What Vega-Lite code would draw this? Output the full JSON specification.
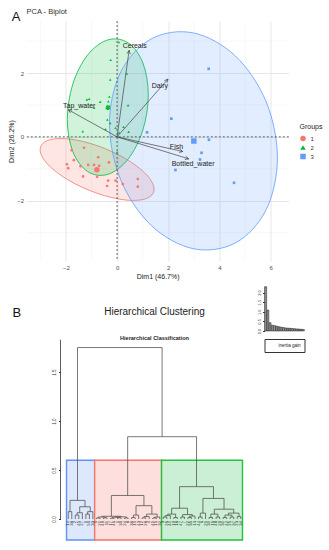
{
  "$schema": "https://vega.github.io/schema/vega-lite/v6.json",
  "background": "white",
  "padding": {"left": 7.5, "top": 8, "right": 0, "bottom": 0},
  "config": {
    "font": "Liberation Sans",
    "view": {"stroke": null},
    "legend": {"layout": {"right": {"anchor": "middle"}}}
  },
  "title": {"text": "A", "anchor": "start", "frame": "bounds", "fontSize": 13, "fontWeight": "normal", "color": "#111", "offset": -15.5, "dx": 4},
  "resolve": {"scale": {"color": "independent", "fill": "independent", "stroke": "independent", "shape": "independent", "size": "independent"}},
  "datasets": {
    "one": [{}],
    "minorx": [{"v": -3}, {"v": -1}, {"v": 1}, {"v": 3}, {"v": 5}],
    "minory": [{"v": -3}, {"v": -1}, {"v": 1}, {"v": 3}],
    "axisline": [{"from": 0, "to": 1.83, "at": -1.205}],
    "pts": [
      {"x": -1.78, "y": -0.42, "group": "1", "kind": "ind"},
      {"x": -1.29, "y": -0.34, "group": "1", "kind": "ind"},
      {"x": -0.74, "y": -0.64, "group": "1", "kind": "ind"},
      {"x": -1.69, "y": -0.73, "group": "1", "kind": "ind"},
      {"x": -1.96, "y": -0.86, "group": "1", "kind": "ind"},
      {"x": -1.91, "y": -0.98, "group": "1", "kind": "ind"},
      {"x": -1.43, "y": -0.92, "group": "1", "kind": "ind"},
      {"x": -1.13, "y": -0.88, "group": "1", "kind": "ind"},
      {"x": -0.90, "y": -0.88, "group": "1", "kind": "ind"},
      {"x": -0.70, "y": -0.91, "group": "1", "kind": "ind"},
      {"x": -0.32, "y": -0.80, "group": "1", "kind": "ind"},
      {"x": -1.33, "y": -1.24, "group": "1", "kind": "ind"},
      {"x": -0.78, "y": -1.25, "group": "1", "kind": "ind"},
      {"x": -0.35, "y": -1.37, "group": "1", "kind": "ind"},
      {"x": -0.06, "y": -1.37, "group": "1", "kind": "ind"},
      {"x": -0.39, "y": -1.54, "group": "1", "kind": "ind"},
      {"x": 0.22, "y": -1.48, "group": "1", "kind": "ind"},
      {"x": 0.81, "y": -1.32, "group": "1", "kind": "ind"},
      {"x": 0.81, "y": -1.56, "group": "1", "kind": "ind"},
      {"x": -0.79, "y": -1.03, "group": "1", "kind": "mean"},
      {"x": 0.07, "y": 2.97, "group": "2", "kind": "ind"},
      {"x": -0.25, "y": 2.41, "group": "2", "kind": "ind"},
      {"x": 0.38, "y": 1.98, "group": "2", "kind": "ind"},
      {"x": -0.27, "y": 1.79, "group": "2", "kind": "ind"},
      {"x": -1.09, "y": 1.19, "group": "2", "kind": "ind"},
      {"x": -1.18, "y": 1.17, "group": "2", "kind": "ind"},
      {"x": -0.66, "y": 1.10, "group": "2", "kind": "ind"},
      {"x": -0.30, "y": 1.26, "group": "2", "kind": "ind"},
      {"x": -0.34, "y": 1.11, "group": "2", "kind": "ind"},
      {"x": -0.40, "y": 0.96, "group": "2", "kind": "ind"},
      {"x": -0.30, "y": 0.96, "group": "2", "kind": "ind"},
      {"x": -0.36, "y": 0.88, "group": "2", "kind": "ind"},
      {"x": -0.90, "y": 0.91, "group": "2", "kind": "ind"},
      {"x": 0.43, "y": 0.99, "group": "2", "kind": "ind"},
      {"x": -0.38, "y": 0.54, "group": "2", "kind": "ind"},
      {"x": -0.27, "y": 0.43, "group": "2", "kind": "ind"},
      {"x": -0.06, "y": 0.28, "group": "2", "kind": "ind"},
      {"x": 0.25, "y": 0.31, "group": "2", "kind": "ind"},
      {"x": -1.34, "y": 0.17, "group": "2", "kind": "ind"},
      {"x": -0.45, "y": 0.24, "group": "2", "kind": "ind"},
      {"x": 0.08, "y": 0.13, "group": "2", "kind": "ind"},
      {"x": 0.45, "y": 0.16, "group": "2", "kind": "ind"},
      {"x": 0.0, "y": -0.48, "group": "2", "kind": "ind"},
      {"x": -0.36, "y": 0.94, "group": "2", "kind": "mean"},
      {"x": 2.12, "y": 0.57, "group": "3", "kind": "ind"},
      {"x": 1.17, "y": 0.14, "group": "3", "kind": "ind"},
      {"x": 3.59, "y": -0.09, "group": "3", "kind": "ind"},
      {"x": 3.30, "y": -0.50, "group": "3", "kind": "ind"},
      {"x": 3.24, "y": -0.71, "group": "3", "kind": "ind"},
      {"x": 2.28, "y": -1.04, "group": "3", "kind": "ind"},
      {"x": 3.58, "y": 2.13, "group": "3", "kind": "ind"},
      {"x": 4.57, "y": -1.44, "group": "3", "kind": "ind"},
      {"x": 3.0, "y": -0.13, "group": "3", "kind": "mean"}
    ],
    "ell": [
      {"group": "1", "i": 0, "x": 1.446, "y": -1.641},
      {"group": "1", "i": 1, "x": 1.148, "y": -1.932},
      {"group": "1", "i": 2, "x": 0.333, "y": -1.979},
      {"group": "1", "i": 3, "x": -0.781, "y": -1.769},
      {"group": "1", "i": 4, "x": -1.895, "y": -1.359},
      {"group": "1", "i": 5, "x": -2.710, "y": -0.860},
      {"group": "1", "i": 6, "x": -3.008, "y": -0.403},
      {"group": "1", "i": 7, "x": -2.710, "y": -0.112},
      {"group": "1", "i": 8, "x": -1.895, "y": -0.065},
      {"group": "1", "i": 9, "x": -0.781, "y": -0.275},
      {"group": "1", "i": 10, "x": 0.333, "y": -0.685},
      {"group": "1", "i": 11, "x": 1.148, "y": -1.184},
      {"group": "2", "i": 0, "x": 1.219, "y": 1.317},
      {"group": "2", "i": 1, "x": 1.007, "y": 0.212},
      {"group": "2", "i": 2, "x": 0.428, "y": -0.700},
      {"group": "2", "i": 3, "x": -0.363, "y": -1.175},
      {"group": "2", "i": 4, "x": -1.154, "y": -1.086},
      {"group": "2", "i": 5, "x": -1.733, "y": -0.456},
      {"group": "2", "i": 6, "x": -1.945, "y": 0.545},
      {"group": "2", "i": 7, "x": -1.733, "y": 1.650},
      {"group": "2", "i": 8, "x": -1.154, "y": 2.562},
      {"group": "2", "i": 9, "x": -0.363, "y": 3.037},
      {"group": "2", "i": 10, "x": 0.428, "y": 2.948},
      {"group": "2", "i": 11, "x": 1.007, "y": 2.318},
      {"group": "3", "i": 0, "x": 6.265, "y": -0.664},
      {"group": "3", "i": 1, "x": 5.825, "y": -2.283},
      {"group": "3", "i": 2, "x": 4.625, "y": -3.323},
      {"group": "3", "i": 3, "x": 2.984, "y": -3.506},
      {"group": "3", "i": 4, "x": 1.343, "y": -2.783},
      {"group": "3", "i": 5, "x": 0.143, "y": -1.349},
      {"group": "3", "i": 6, "x": -0.297, "y": 0.414},
      {"group": "3", "i": 7, "x": 0.143, "y": 2.033},
      {"group": "3", "i": 8, "x": 1.343, "y": 3.073},
      {"group": "3", "i": 9, "x": 2.984, "y": 3.256},
      {"group": "3", "i": 10, "x": 4.625, "y": 2.533},
      {"group": "3", "i": 11, "x": 5.825, "y": 1.099}
    ],
    "vars": [
      {"name": "Cereals", "x": 0.47, "y": 2.71, "lx": 0.69, "ly": 2.86},
      {"name": "Dairy", "x": 1.99, "y": 1.81, "lx": 1.67, "ly": 1.60},
      {"name": "Tap_water", "x": -1.91, "y": 0.85, "lx": -1.48, "ly": 0.97},
      {"name": "Fish", "x": 2.57, "y": -0.46, "lx": 2.32, "ly": -0.31},
      {"name": "Bottled_water", "x": 2.80, "y": -0.69, "lx": 2.97, "ly": -0.84}
    ],
    "rects": [
      {"cluster": "3", "x1": 0.5, "x2": 8.5, "y1": -0.215, "y2": 0.6},
      {"cluster": "1", "x1": 8.5, "x2": 27.5, "y1": -0.215, "y2": 0.6},
      {"cluster": "2", "x1": 27.5, "x2": 50.5, "y1": -0.215, "y2": 0.6}
    ],
    "merges": [
      {"xa": 1, "ha": 0, "xb": 2, "hb": 0, "h": 0.075},
      {"xa": 3, "ha": 0, "xb": 4, "hb": 0, "h": 0.04},
      {"xa": 3.5, "ha": 0.04, "xb": 5, "hb": 0, "h": 0.064},
      {"xa": 6, "ha": 0, "xb": 7, "hb": 0, "h": 0.05},
      {"xa": 6.5, "ha": 0.05, "xb": 8, "hb": 0, "h": 0.075},
      {"xa": 4.25, "ha": 0.064, "xb": 7.25, "hb": 0.075, "h": 0.125},
      {"xa": 1.5, "ha": 0.075, "xb": 5.75, "hb": 0.125, "h": 0.19},
      {"xa": 9, "ha": 0, "xb": 10, "hb": 0, "h": 0.01},
      {"xa": 11, "ha": 0, "xb": 12, "hb": 0, "h": 0.012},
      {"xa": 9.5, "ha": 0.01, "xb": 11.5, "hb": 0.012, "h": 0.02},
      {"xa": 13, "ha": 0, "xb": 14, "hb": 0, "h": 0.008},
      {"xa": 15, "ha": 0, "xb": 16, "hb": 0, "h": 0.012},
      {"xa": 13.5, "ha": 0.008, "xb": 15.5, "hb": 0.012, "h": 0.018},
      {"xa": 17, "ha": 0, "xb": 18, "hb": 0, "h": 0.01},
      {"xa": 14.5, "ha": 0.018, "xb": 17.5, "hb": 0.01, "h": 0.022},
      {"xa": 10.5, "ha": 0.02, "xb": 16, "hb": 0.022, "h": 0.028},
      {"xa": 19, "ha": 0, "xb": 20, "hb": 0, "h": 0.015},
      {"xa": 19.5, "ha": 0.015, "xb": 21, "hb": 0, "h": 0.04},
      {"xa": 22, "ha": 0, "xb": 23, "hb": 0, "h": 0.012},
      {"xa": 22.5, "ha": 0.012, "xb": 24, "hb": 0, "h": 0.025},
      {"xa": 25, "ha": 0, "xb": 26, "hb": 0, "h": 0.01},
      {"xa": 25.5, "ha": 0.01, "xb": 27, "hb": 0, "h": 0.02},
      {"xa": 23.25, "ha": 0.025, "xb": 26.25, "hb": 0.02, "h": 0.05},
      {"xa": 20.25, "ha": 0.04, "xb": 24.75, "hb": 0.05, "h": 0.136},
      {"xa": 13.25, "ha": 0.028, "xb": 22.5, "hb": 0.136, "h": 0.24},
      {"xa": 28, "ha": 0, "xb": 29, "hb": 0, "h": 0.02},
      {"xa": 28.5, "ha": 0.02, "xb": 30, "hb": 0, "h": 0.035},
      {"xa": 31, "ha": 0, "xb": 32, "hb": 0, "h": 0.015},
      {"xa": 29.25, "ha": 0.035, "xb": 31.5, "hb": 0.015, "h": 0.05},
      {"xa": 33, "ha": 0, "xb": 34, "hb": 0, "h": 0.02},
      {"xa": 35, "ha": 0, "xb": 36, "hb": 0, "h": 0.015},
      {"xa": 35.5, "ha": 0.015, "xb": 37, "hb": 0, "h": 0.03},
      {"xa": 33.5, "ha": 0.02, "xb": 36.25, "hb": 0.03, "h": 0.045},
      {"xa": 30.375, "ha": 0.05, "xb": 34.875, "hb": 0.045, "h": 0.11},
      {"xa": 38, "ha": 0, "xb": 39, "hb": 0, "h": 0.02},
      {"xa": 38.5, "ha": 0.02, "xb": 40, "hb": 0, "h": 0.06},
      {"xa": 41, "ha": 0, "xb": 42, "hb": 0, "h": 0.015},
      {"xa": 43, "ha": 0, "xb": 44, "hb": 0, "h": 0.02},
      {"xa": 41.5, "ha": 0.015, "xb": 43.5, "hb": 0.02, "h": 0.05},
      {"xa": 45, "ha": 0, "xb": 46, "hb": 0, "h": 0.015},
      {"xa": 47, "ha": 0, "xb": 48, "hb": 0, "h": 0.02},
      {"xa": 45.5, "ha": 0.015, "xb": 47.5, "hb": 0.02, "h": 0.04},
      {"xa": 49, "ha": 0, "xb": 50, "hb": 0, "h": 0.025},
      {"xa": 46.5, "ha": 0.04, "xb": 49.5, "hb": 0.025, "h": 0.06},
      {"xa": 42.5, "ha": 0.05, "xb": 48, "hb": 0.06, "h": 0.10},
      {"xa": 39.25, "ha": 0.06, "xb": 45.25, "hb": 0.10, "h": 0.21},
      {"xa": 32.625, "ha": 0.11, "xb": 42.25, "hb": 0.21, "h": 0.33},
      {"xa": 17.875, "ha": 0.24, "xb": 37.4375, "hb": 0.33, "h": 0.84},
      {"xa": 3.625, "ha": 0.19, "xb": 27.656, "hb": 0.84, "h": 1.75}
    ],
    "leaves": [
      {"leaf": 1, "label": "14"}, {"leaf": 2, "label": "38"}, {"leaf": 3, "label": "2"}, {"leaf": 4, "label": "45"},
      {"leaf": 5, "label": "27"}, {"leaf": 6, "label": "9"}, {"leaf": 7, "label": "50"}, {"leaf": 8, "label": "33"},
      {"leaf": 9, "label": "5"}, {"leaf": 10, "label": "21"}, {"leaf": 11, "label": "40"}, {"leaf": 12, "label": "11"},
      {"leaf": 13, "label": "17"}, {"leaf": 14, "label": "46"}, {"leaf": 15, "label": "1"}, {"leaf": 16, "label": "30"},
      {"leaf": 17, "label": "24"}, {"leaf": 18, "label": "8"}, {"leaf": 19, "label": "36"}, {"leaf": 20, "label": "19"},
      {"leaf": 21, "label": "43"}, {"leaf": 22, "label": "12"}, {"leaf": 23, "label": "28"}, {"leaf": 24, "label": "4"},
      {"leaf": 25, "label": "49"}, {"leaf": 26, "label": "15"}, {"leaf": 27, "label": "32"}, {"leaf": 28, "label": "3"},
      {"leaf": 29, "label": "26"}, {"leaf": 30, "label": "41"}, {"leaf": 31, "label": "10"}, {"leaf": 32, "label": "18"},
      {"leaf": 33, "label": "47"}, {"leaf": 34, "label": "7"}, {"leaf": 35, "label": "22"}, {"leaf": 36, "label": "35"},
      {"leaf": 37, "label": "13"}, {"leaf": 38, "label": "44"}, {"leaf": 39, "label": "6"}, {"leaf": 40, "label": "29"},
      {"leaf": 41, "label": "39"}, {"leaf": 42, "label": "16"}, {"leaf": 43, "label": "48"}, {"leaf": 44, "label": "20"},
      {"leaf": 45, "label": "31"}, {"leaf": 46, "label": "42"}, {"leaf": 47, "label": "25"}, {"leaf": 48, "label": "37"},
      {"leaf": 49, "label": "23"}, {"leaf": 50, "label": "34"}
    ],
    "gain": [
      {"k": 1, "gain": 2.3, "series": "inertia gain"}, {"k": 2, "gain": 1.09, "series": "inertia gain"},
      {"k": 3, "gain": 0.43, "series": "inertia gain"}, {"k": 4, "gain": 0.3, "series": "inertia gain"},
      {"k": 5, "gain": 0.28, "series": "inertia gain"}, {"k": 6, "gain": 0.25, "series": "inertia gain"},
      {"k": 7, "gain": 0.22, "series": "inertia gain"}, {"k": 8, "gain": 0.2, "series": "inertia gain"},
      {"k": 9, "gain": 0.18, "series": "inertia gain"}, {"k": 10, "gain": 0.16, "series": "inertia gain"},
      {"k": 11, "gain": 0.15, "series": "inertia gain"}, {"k": 12, "gain": 0.14, "series": "inertia gain"},
      {"k": 13, "gain": 0.13, "series": "inertia gain"}, {"k": 14, "gain": 0.12, "series": "inertia gain"},
      {"k": 15, "gain": 0.11, "series": "inertia gain"}, {"k": 16, "gain": 0.1, "series": "inertia gain"},
      {"k": 17, "gain": 0.09, "series": "inertia gain"}, {"k": 18, "gain": 0.08, "series": "inertia gain"}
    ]
  },
  "spacing": 7,
  "center": false,
  "vconcat": [
    {
      "width": 262.3,
      "height": 240,
      "title": {"text": "PCA - Biplot", "anchor": "start", "frame": "group", "fontSize": 7.5, "fontWeight": "normal", "color": "#333", "offset": 5},
      "layer": [
        {
          "data": {"name": "minorx"},
          "mark": {"type": "rule", "color": "#f0f0f0", "strokeWidth": 0.5},
          "encoding": {"x": {"field": "v", "type": "quantitative", "scale": {"domain": [-3.54, 6.71], "nice": false, "zero": false},
              "axis": {"title": "Dim1 (46.7%)", "values": [-2, 0, 2, 4, 6], "domain": false, "ticks": false,
                "labelFontSize": 6, "labelColor": "#4d4d4d", "labelPadding": 3, "gridColor": "#e4e4e4", "gridWidth": 0.9,
                "titleFontSize": 7, "titleFontWeight": "normal", "titleColor": "#222", "titlePadding": 2}}}
        },
        {
          "data": {"name": "minory"},
          "mark": {"type": "rule", "color": "#f0f0f0", "strokeWidth": 0.5},
          "encoding": {"y": {"field": "v", "type": "quantitative", "scale": {"domain": [-3.89, 3.63], "nice": false, "zero": false},
              "axis": {"title": "Dim2 (26.2%)", "values": [-2, 0, 2], "domain": false, "ticks": false,
                "labelFontSize": 6, "labelColor": "#4d4d4d", "labelPadding": 3, "gridColor": "#e4e4e4", "gridWidth": 0.9,
                "titleFontSize": 7, "titleFontWeight": "normal", "titleColor": "#222", "titlePadding": 2}}}
        },
        {
          "data": {"name": "ell"},
          "transform": [{"filter": "datum.group === '1'"}],
          "mark": {"type": "line", "interpolate": "cardinal-closed", "strokeWidth": 0.8, "fillOpacity": 0.18},
          "encoding": {
            "x": {"field": "x", "type": "quantitative"},
            "y": {"field": "y", "type": "quantitative"},
            "order": {"field": "i", "type": "quantitative"},
            "stroke": {"value": "#F8766D"},
            "fill": {"value": "#F8766D"}
          }
        },
        {
          "data": {"name": "ell"},
          "transform": [{"filter": "datum.group === '2'"}],
          "mark": {"type": "line", "interpolate": "cardinal-closed", "strokeWidth": 0.8, "fillOpacity": 0.18},
          "encoding": {
            "x": {"field": "x", "type": "quantitative"},
            "y": {"field": "y", "type": "quantitative"},
            "order": {"field": "i", "type": "quantitative"},
            "stroke": {"value": "#00BA38"},
            "fill": {"value": "#00BA38"}
          }
        },
        {
          "data": {"name": "ell"},
          "transform": [{"filter": "datum.group === '3'"}],
          "mark": {"type": "line", "interpolate": "cardinal-closed", "strokeWidth": 0.8, "fillOpacity": 0.18},
          "encoding": {
            "x": {"field": "x", "type": "quantitative"},
            "y": {"field": "y", "type": "quantitative"},
            "order": {"field": "i", "type": "quantitative"},
            "stroke": {"value": "#619CFF"},
            "fill": {"value": "#619CFF"}
          }
        },
        {
          "data": {"name": "one"},
          "mark": {"type": "rule", "color": "#555", "strokeDash": [2, 2], "strokeWidth": 0.9},
          "encoding": {"x": {"datum": 0, "type": "quantitative"}}
        },
        {
          "data": {"name": "one"},
          "mark": {"type": "rule", "color": "#555", "strokeDash": [2, 2], "strokeWidth": 0.9},
          "encoding": {"y": {"datum": 0, "type": "quantitative"}}
        },
        {
          "data": {"name": "pts"},
          "mark": {"type": "point", "filled": true, "opacity": 1},
          "encoding": {
            "x": {"field": "x", "type": "quantitative"},
            "y": {"field": "y", "type": "quantitative"},
            "color": {"field": "group", "type": "nominal", "scale": {"domain": ["1", "2", "3"], "range": ["#F8766D", "#00BA38", "#619CFF"]},
              "legend": {"title": "Groups", "titleFontSize": 7, "titleFontWeight": "normal", "titleColor": "#222", "labelFontSize": 6, "labelColor": "#333", "symbolSize": 30, "offset": 10, "rowPadding": 2}},
            "shape": {"field": "group", "type": "nominal", "scale": {"domain": ["1", "2", "3"], "range": ["circle", "triangle-up", "square"]}},
            "size": {"field": "kind", "type": "nominal", "scale": {"domain": ["ind", "mean"], "range": [7, 30]}, "legend": null}
          }
        },
        {
          "data": {"name": "vars"},
          "mark": {"type": "rule", "color": "#444", "strokeWidth": 0.7},
          "encoding": {
            "x": {"field": "x", "type": "quantitative"},
            "y": {"field": "y", "type": "quantitative"},
            "x2": {"datum": 0},
            "y2": {"datum": 0}
          }
        },
        {
          "data": {"name": "vars"},
          "transform": [{"calculate": "atan2(datum.x * 25.6, datum.y * 32) * 180 / PI", "as": "ang"}],
          "mark": {"type": "point", "shape": "M-0.6,1.3L0,0L0.6,1.3", "filled": false, "stroke": "#444", "strokeWidth": 0.7, "size": 30, "opacity": 1},
          "encoding": {
            "x": {"field": "x", "type": "quantitative"},
            "y": {"field": "y", "type": "quantitative"},
            "angle": {"field": "ang", "type": "quantitative", "scale": null}
          }
        },
        {
          "data": {"name": "vars"},
          "mark": {"type": "text", "fontSize": 7, "color": "#222"},
          "encoding": {
            "x": {"field": "lx", "type": "quantitative"},
            "y": {"field": "ly", "type": "quantitative"},
            "text": {"field": "name"}
          }
        }
      ]
    },
    {
      "title": {"text": "B", "anchor": "start", "frame": "bounds", "fontSize": 13, "fontWeight": "normal", "color": "#111", "offset": -34, "dx": -14},
      "spacing": 9,
      "center": false,
      "resolve": {"scale": {"fill": "independent", "stroke": "independent"}},
      "hconcat": [
        {
          "width": 222,
          "height": 255,
          "title": {"text": "Hierarchical Clustering", "subtitle": "Hierarchical Classification", "anchor": "middle", "frame": "group",
            "fontSize": 10, "fontWeight": "normal", "color": "#222", "subtitleFontSize": 5.5, "subtitleFontWeight": "bold", "subtitleColor": "#222",
            "subtitlePadding": 19, "offset": -55, "dx": 17},
          "layer": [
            {
              "data": {"name": "rects"},
              "mark": {"type": "rect", "strokeWidth": 1.4},
              "encoding": {
                "x": {"field": "x1", "type": "quantitative", "scale": {"domain": [-10.864, 52.2], "nice": false, "zero": false}, "axis": null},
                "x2": {"field": "x2"},
                "y": {"field": "y1", "type": "quantitative", "scale": {"domain": [-0.2245, 2.378], "nice": false, "zero": false},
                  "axis": {"title": null, "orient": "left", "offset": -34, "values": [0, 0.5, 1, 1.5], "format": ".1f", "domain": false, "grid": false,
                    "tickSize": 2, "tickColor": "#333", "labelAngle": -90, "labelAlign": "center", "labelBaseline": "bottom", "labelFontSize": 4.5, "labelColor": "#333", "labelPadding": 2}},
                "y2": {"field": "y2"},
                "fill": {"field": "cluster", "type": "nominal", "scale": {"domain": ["1", "2", "3"], "range": ["#fde0de", "#caefd4", "#dde8fc"]}, "legend": null},
                "stroke": {"field": "cluster", "type": "nominal", "scale": {"domain": ["1", "2", "3"], "range": ["#f4736a", "#22c13e", "#5d93f4"]}, "legend": null}
              }
            },
            {
              "data": {"name": "axisline"},
              "mark": {"type": "rule", "color": "#333", "strokeWidth": 0.8},
              "encoding": {
                "x": {"field": "at", "type": "quantitative"},
                "y": {"field": "from", "type": "quantitative"},
                "y2": {"field": "to"}
              }
            },
            {
              "data": {"name": "merges"},
              "mark": {"type": "rule", "color": "#555", "strokeWidth": 0.8},
              "encoding": {
                "x": {"field": "xa", "type": "quantitative"},
                "x2": {"field": "xb"},
                "y": {"field": "h", "type": "quantitative"}
              }
            },
            {
              "data": {"name": "merges"},
              "mark": {"type": "rule", "color": "#555", "strokeWidth": 0.8},
              "encoding": {
                "x": {"field": "xa", "type": "quantitative"},
                "y": {"field": "ha", "type": "quantitative"},
                "y2": {"field": "h"}
              }
            },
            {
              "data": {"name": "merges"},
              "mark": {"type": "rule", "color": "#555", "strokeWidth": 0.8},
              "encoding": {
                "x": {"field": "xb", "type": "quantitative"},
                "y": {"field": "hb", "type": "quantitative"},
                "y2": {"field": "h"}
              }
            },
            {
              "data": {"name": "leaves"},
              "mark": {"type": "text", "fontSize": 4.2, "color": "#333", "angle": 270, "align": "right", "baseline": "middle"},
              "encoding": {
                "x": {"field": "leaf", "type": "quantitative"},
                "y": {"datum": -0.02, "type": "quantitative"},
                "text": {"field": "label"}
              }
            }
          ]
        },
        {
          "width": 40,
          "height": 45,
          "data": {"name": "gain"},
          "mark": {"type": "bar", "stroke": "#111", "strokeWidth": 0.5},
          "encoding": {
            "x": {"field": "k", "type": "ordinal", "axis": null, "scale": {"paddingInner": 0.15, "paddingOuter": 0.1}},
            "y": {"field": "gain", "type": "quantitative", "scale": {"domain": [0, 2.34], "nice": false},
              "axis": {"title": null, "values": [0, 0.5, 1, 1.5, 2], "format": ".1f", "grid": false, "domainColor": "#333", "domainWidth": 0.6,
                "tickSize": 2, "tickColor": "#333", "labelAngle": -90, "labelAlign": "center", "labelBaseline": "bottom", "labelFontSize": 4, "labelColor": "#333", "labelPadding": 1}},
            "fill": {"field": "series", "type": "nominal", "scale": {"range": ["#9a9a9a"]},
              "legend": {"title": null, "orient": "bottom", "symbolOpacity": 0, "symbolSize": 30, "strokeColor": "#333", "padding": 3, "labelFontSize": 4.5, "labelColor": "#222", "offset": 8}}
          }
        }
      ]
    }
  ]
}
